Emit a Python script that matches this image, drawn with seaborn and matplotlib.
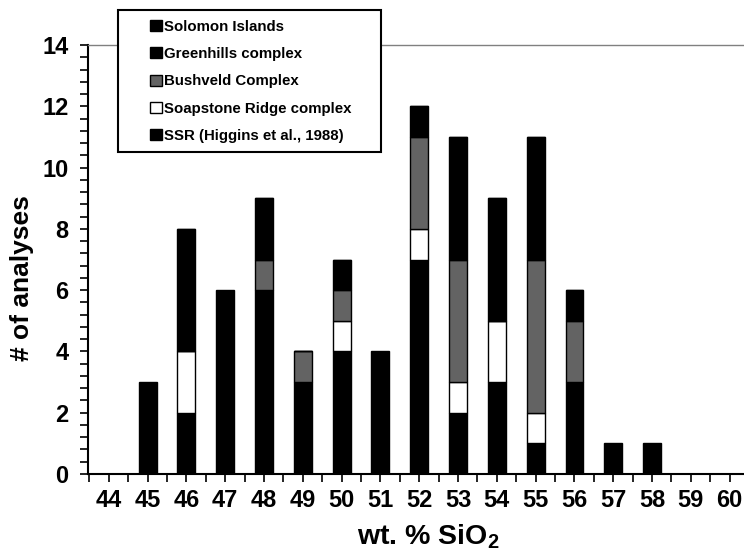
import matplotlib
matplotlib.use("Agg")
import matplotlib.pyplot as plt
import seaborn as sns
import pandas as pd
import numpy as np
from matplotlib.patches import Patch, Rectangle
from matplotlib.ticker import MultipleLocator, AutoMinorLocator

# ---- data ----
categories = ["44", "45", "46", "47", "48", "49", "50", "51", "52",
              "53", "54", "55", "56", "57", "58", "59", "60"]
# stacked bottom -> top
ssr        = [0, 0, 2, 0, 6, 3, 4, 0, 7, 2, 3, 1, 3, 0, 0, 0, 0]
soapstone  = [0, 0, 2, 0, 0, 0, 1, 0, 1, 1, 2, 1, 0, 0, 0, 0, 0]
bushveld   = [0, 0, 0, 0, 1, 1, 1, 0, 3, 4, 0, 5, 2, 0, 0, 0, 0]
greenhills = [0, 0, 4, 0, 2, 0, 1, 0, 1, 4, 4, 4, 1, 0, 0, 0, 0]
solomon    = [0, 3, 0, 6, 0, 0, 0, 4, 0, 0, 0, 0, 0, 1, 1, 0, 0]

legend_labels = ["Solomon Islands", "Greenhills complex", "Bushveld Complex",
                 "Soapstone Ridge complex", "SSR (Higgins et al., 1988)"]

sns.set_theme(style="ticks")
plt.rcParams["font.family"] = ["Liberation Sans", "DejaVu Sans"]
plt.rcParams["font.weight"] = "bold"
plt.rcParams["mathtext.fontset"] = "custom"
plt.rcParams["mathtext.bf"] = "Liberation Sans:bold"
plt.rcParams["mathtext.rm"] = "Liberation Sans:bold"
plt.rcParams["mathtext.default"] = "bf"
for k in ["text.color", "axes.labelcolor", "xtick.color", "ytick.color", "axes.edgecolor"]:
    plt.rcParams[k] = "black"

fig = plt.figure(figsize=(7.44, 5.55), dpi=100)
fig.patch.set_facecolor("white")
ax = fig.add_axes([88 / 744, 81 / 555, 656 / 744, 429 / 555])

gray = "#636363"
series = [
    (ssr, "black"),
    (soapstone, "white"),
    (bushveld, gray),
    (greenhills, "black"),
    (solomon, "black"),
]

bottom = np.zeros(len(categories))
for vals, col in series:
    df = pd.DataFrame({"sio2": categories, "n": vals})
    sns.barplot(data=df, x="sio2", y="n", order=categories, color=col,
                saturation=1, width=0.46, bottom=bottom.copy(),
                edgecolor="black", linewidth=1.0, errorbar=None, ax=ax)
    bottom += np.array(vals, dtype=float)

ax.set_xlim(-0.536, 16.37)
ax.set_ylim(0, 14)
ax.set_yticks(np.arange(0, 15, 2))
ax.yaxis.set_minor_locator(AutoMinorLocator(5))
ax.set_xticks(range(len(categories)))
ax.set_xticklabels(categories)
ax.xaxis.set_minor_locator(MultipleLocator(0.5))

ax.tick_params(axis="both", which="both", direction="out", length=6,
               width=1.2, color="black")
ax.tick_params(axis="x", which="major", labelsize=17, pad=5)
ax.tick_params(axis="y", which="major", labelsize=17, pad=8)
for lab in ax.get_xticklabels() + ax.get_yticklabels():
    lab.set_fontweight("bold")

ax.set_xlabel("wt. % SiO$_2$", fontsize=20.5, fontweight="bold")
ax.set_ylabel("# of analyses", fontsize=19, fontweight="bold")
ax.xaxis.set_label_coords(0.519, -0.112)
ax.yaxis.set_label_coords(-0.082, 0.457)

for s in ["left", "bottom"]:
    ax.spines[s].set_color("black")
    ax.spines[s].set_linewidth(1.5)
ax.spines["top"].set_color("#808080")
ax.spines["top"].set_linewidth(1.0)
ax.spines["right"].set_visible(False)

# legend box
rect = Rectangle((118 / 744, 1 - 152 / 555), (381 - 118) / 744, (152 - 10) / 555,
                 transform=fig.transFigure, facecolor="white", edgecolor="black",
                 linewidth=1.5, zorder=5)
fig.add_artist(rect)

handles = [
    Patch(facecolor="black", edgecolor="black"),
    Patch(facecolor="black", edgecolor="black"),
    Patch(facecolor=gray, edgecolor="black"),
    Patch(facecolor="white", edgecolor="black"),
    Patch(facecolor="black", edgecolor="black"),
]
leg = fig.legend(handles, legend_labels, loc="upper left",
                 bbox_to_anchor=(150 / 744, 1 - 20 / 555),
                 bbox_transform=fig.transFigure, frameon=False,
                 prop={"weight": "bold", "size": 10.8},
                 handlelength=0.8, handleheight=0.75, handletextpad=0.15,
                 labelspacing=0.88, borderpad=0, borderaxespad=0)
leg.set_zorder(6)

fig.savefig("out.png", dpi=100)
